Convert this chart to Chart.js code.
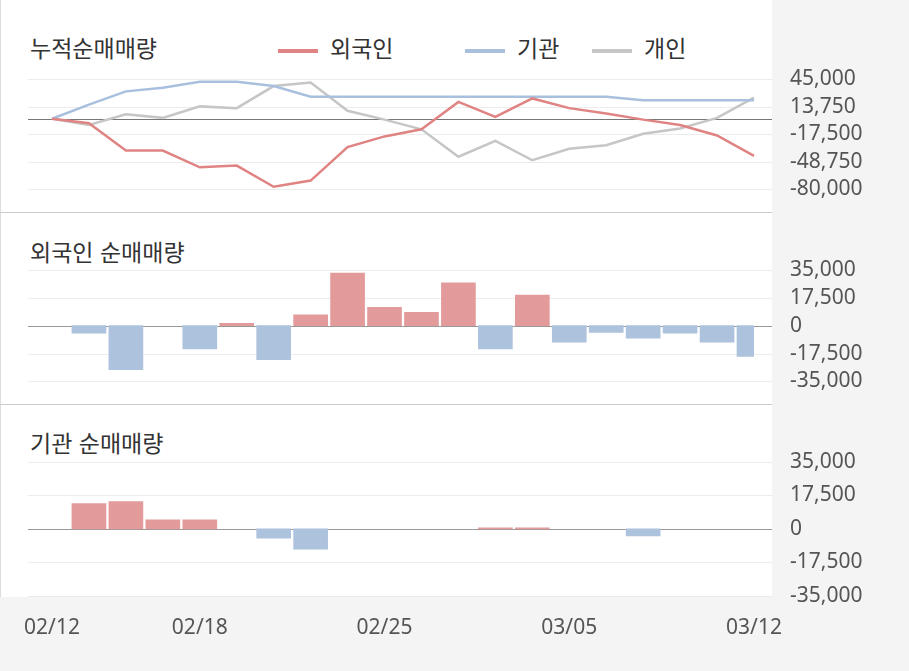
<!DOCTYPE html>
<html lang="ko">
<head>
<meta charset="UTF-8">
<title>순매매량</title>
<script src="https://cdn.jsdelivr.net/npm/chart.js"></script>
<style>
  body { margin: 0; width: 909px; height: 671px; background: #f4f4f4; position: relative; overflow: hidden;
         font-family: "Noto Sans CJK KR", "Noto Sans", sans-serif; }
  #plotBg { position: absolute; left: 0; top: 0; width: 772px; height: 597px; background: #fff;
            border-left: 1px solid #ddd; box-sizing: border-box; }
  .sep { position: absolute; left: 0; width: 772px; height: 1px; background: #ccc; }
  .title { position: absolute; left: 30px; font-size: 23px; color: #333; }
  .leg { position: absolute; top: 30px; font-size: 23px; color: #333; }
  .sw { display: inline-block; width: 40px; height: 4px; vertical-align: middle; margin-right: 12px; }
  canvas { position: absolute; left: 0; }
</style>
</head>
<body>
<div id="plotBg"></div>
<div class="sep" style="top:212px"></div>
<div class="sep" style="top:404px"></div>
<div class="title" style="top:30px">누적순매매량</div>
<div class="leg" style="left:278px"><span class="sw" style="background:#e08383"></span>외국인</div>
<div class="leg" style="left:465px"><span class="sw" style="background:#a8c0de"></span>기관</div>
<div class="leg" style="left:592px"><span class="sw" style="background:#c6c6c6"></span>개인</div>
<div class="title" style="top:234px">외국인 순매매량</div>
<div class="title" style="top:425px">기관 순매매량</div>

<div style="position:absolute;left:0;top:0;width:909px;height:230px"><canvas id="c1"></canvas></div>
<div style="position:absolute;left:0;top:212px;width:909px;height:210px"><canvas id="c2"></canvas></div>
<div style="position:absolute;left:0;top:404px;width:909px;height:267px"><canvas id="c3"></canvas></div>

<script>
const dates = ['02/12','02/13','02/14','02/15','02/18','02/19','02/20','02/21','02/22','02/25',
               '02/26','02/27','02/28','03/04','03/05','03/06','03/07','03/08','03/11','03/12'];
const shownDates = ['02/12','02/18','02/25','03/05','03/12'];

// 누적 순매매량
const cumForeign = [0,-5000,-36000,-36000,-55000,-53000,-77000,-70000,-32000,-20000,
                    -12000,19000,2000,23000,12000,6000,-1000,-7000,-19000,-42000];
const cumInst = [0,16000,31000,35000,42000,42000,37000,25000,25000,25000,
                 25000,25000,25000,25000,25000,25000,21000,21000,21000,21000];
const cumIndiv = [0,-7000,5000,1000,14000,12000,37000,41000,9000,-1000,
                  -12000,-43000,-25000,-47000,-34000,-30000,-17000,-11000,1000,24000];

// 일별 순매매량
const netForeign = [0,-4700,-27700,0,-14600,1500,-21400,6800,33000,11500,
                    8400,27000,-14600,19300,-10400,-4200,-7800,-4700,-10400,-19300];
const netInst = [0,13200,14300,4800,4800,0,-4800,-10600,0,0,
                 0,0,500,500,0,0,-3700,0,0,0];

const ticksTop = [45000,13750,-17500,-48750,-80000];
const ticksBar = [35000,17500,0,-17500,-35000];

const RED = '#e08383', BLUE = '#a8c0de', GRAY = '#c6c6c6';
const RED_BAR = '#e39a9b', BLUE_BAR = '#adc2dc';
const font = { family: '"Noto Sans", sans-serif', size: 21 };

const hLines = {
  id: 'hLines',
  beforeDatasetsDraw(chart, args, opts) {
    const ctx = chart.ctx, y = chart.scales.y;
    ctx.save();
    ctx.lineWidth = 1;
    (opts.grid || []).forEach(v => {
      const py = Math.round(y.getPixelForValue(v)) + 0.5;
      ctx.strokeStyle = '#ececec';
      ctx.beginPath(); ctx.moveTo(28, py); ctx.lineTo(772, py); ctx.stroke();
    });
    const pz = Math.round(y.getPixelForValue(0)) + 0.5;
    ctx.strokeStyle = opts.zeroColor || '#999';
    ctx.beginPath(); ctx.moveTo(28, pz); ctx.lineTo(772, pz); ctx.stroke();
    ctx.restore();
  }
};

function yScale(ticks) {
  return {
    position: 'right',
    min: ticks[ticks.length - 1], max: ticks[0],
    afterBuildTicks: s => { s.ticks = ticks.map(v => ({ value: v })); },
    afterFit: s => { s.width = 155; },
    grid: { display: false }, border: { display: false },
    ticks: { padding: 28, color: '#555', font, callback: v => v.toLocaleString('en-US') }
  };
}

function xScale(showLabels) {
  return {
    display: showLabels,
    offset: false,
    grid: { display: false }, border: { display: false },
    ticks: {
      autoSkip: false, maxRotation: 0, color: '#555', font, padding: 12,
      callback: function (v) { const l = this.getLabelForValue(v); return shownDates.includes(l) ? l : ''; }
    }
  };
}

const common = {
  responsive: true, maintainAspectRatio: false, animation: false,
  plugins: { legend: { display: false }, tooltip: { enabled: false } }
};

new Chart(document.getElementById('c1'), {
  type: 'line',
  data: {
    labels: dates,
    datasets: [
      { data: cumForeign, borderColor: RED },
      { data: cumInst, borderColor: BLUE },
      { data: cumIndiv, borderColor: GRAY }
    ].map(d => Object.assign(d, { borderWidth: 2.5, pointRadius: 0, tension: 0, fill: false }))
  },
  options: Object.assign({}, common, {
    layout: { padding: { left: 52, top: 79, bottom: 18, right: 0 } },
    scales: { x: xScale(false), y: yScale(ticksTop) },
    plugins: Object.assign({}, common.plugins, { hLines: { grid: ticksTop, zeroColor: '#777' } })
  }),
  plugins: [hLines]
});

function barChart(id, values, bottomPad, showLabels) {
  new Chart(document.getElementById(id), {
    type: 'bar',
    data: {
      labels: dates,
      datasets: [{
        data: values.map(v => v === 0 ? null : v),
        backgroundColor: values.map(v => v >= 0 ? RED_BAR : BLUE_BAR),
        barThickness: 34
      }]
    },
    options: Object.assign({}, common, {
      layout: { padding: { left: 52, top: 58, bottom: bottomPad, right: 0 } },
      scales: { x: xScale(showLabels), y: yScale(ticksBar) },
      plugins: Object.assign({}, common.plugins, { hLines: { grid: ticksBar, zeroColor: '#999' } })
    }),
    plugins: [hLines]
  });
}

barChart('c2', netForeign, 18, false);
barChart('c3', netInst, 18, true);
</script>
</body>
</html>
